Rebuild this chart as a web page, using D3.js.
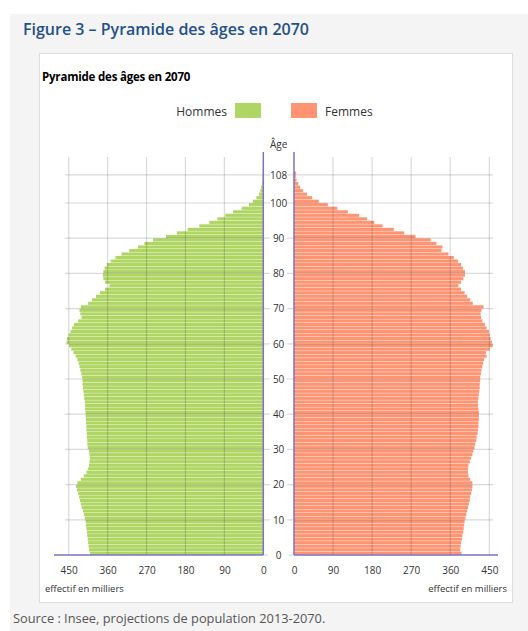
<!DOCTYPE html>
<html>
<head>
<meta charset="utf-8">
<script src="https://cdn.jsdelivr.net/npm/d3@7"></script>
<style>
  body { margin: 0; background: #fff; }
  svg { display: block; font-family: "Open Sans", sans-serif; }
</style>
</head>
<body>
<script>
'use strict';

// effectif en milliers, par âge (0 à 108)
const ages = d3.range(0, 109);
const hommes = [
  401, 403, 404, 405, 406, 407, 408, 409, 410, 411,
  413, 415, 417, 420, 422, 424, 426, 428, 431, 433,
  430, 422, 415, 409, 405, 403, 402, 401, 402, 403,
  406, 407, 407, 408, 408, 409, 409, 410, 410, 411,
  411, 412, 412, 413, 414, 415, 416, 417, 418, 418,
  419, 421, 423, 425, 427, 430, 434, 439, 444, 449,
  455, 454, 450, 446, 442, 438, 428, 420, 423, 425,
  422, 405, 396, 387, 378, 366, 356, 366, 370, 371,
  370, 367, 362, 353, 342, 328, 310, 290, 275, 255,
  225, 200, 175, 148, 125, 106, 88, 70, 50, 33,
  24, 16, 10, 7, 5, 3, 2, 1.5, 1
];
const femmes = [
  386, 383, 384, 385, 387, 388, 390, 391, 392, 393,
  395, 397, 399, 401, 403, 405, 406, 408, 410, 411,
  411, 406, 402, 401, 401, 402, 405, 408, 411, 413,
  416, 418, 420, 421, 423, 424, 425, 425, 426, 426,
  426, 425, 424, 424, 425, 426, 427, 428, 428, 429,
  429, 431, 432, 434, 436, 438, 444, 442, 451, 458,
  456, 453, 451, 449, 444, 440, 434, 431, 430, 432,
  437, 412, 406, 399, 393, 385, 379, 385, 390, 394,
  394, 389, 385, 378, 368, 356, 340, 342, 328, 315,
  280, 254, 230, 204, 185, 168, 150, 124, 100, 78,
  57, 42, 30, 21, 14, 10, 6, 4, 5
];
const xTicks = [0, 90, 180, 270, 360, 450];
const ageTicks = [0, 10, 20, 30, 40, 50, 60, 70, 80, 90, 100, 108];

const W = 528, H = 631;
const colH = '#afd563', colF = '#ff9473', colAxis = '#7b72c6';

const svg = d3.select('body').append('svg')
  .attr('width', W)
  .attr('height', H);

// fond gris + cadre blanc
svg.append('rect').attr('x', 10).attr('y', 14).attr('width', W - 10).attr('height', H - 14)
  .attr('fill', '#f4f4f4');
svg.append('rect').attr('x', 39.5).attr('y', 53.5).attr('width', 473).attr('height', 549)
  .attr('fill', '#fff').attr('stroke', '#dedede');

svg.append('text')
  .attr('x', 23).attr('y', 35)
  .attr('fill', '#24508a')
  .style('font-size', '16px').style('font-weight', 600)
  .text('Figure 3 – Pyramide des âges en 2070');

svg.append('text')
  .attr('x', 42).attr('y', 81)
  .attr('fill', '#000')
  .style('font-size', '11.5px').style('font-weight', 700)
  .style('letter-spacing', '-0.2px')
  .text('Pyramide des âges en 2070');

// légende
const legend = svg.append('g').style('font-size', '12px').attr('fill', '#333');
legend.append('text').attr('x', 227).attr('y', 116).attr('text-anchor', 'end').text('Hommes');
legend.append('rect').attr('x', 235).attr('y', 103).attr('width', 26).attr('height', 15).attr('fill', colH);
legend.append('rect').attr('x', 291).attr('y', 103).attr('width', 26).attr('height', 15).attr('fill', colF);
legend.append('text').attr('x', 325).attr('y', 116).text('Femmes');

// échelles
const y = d3.scaleLinear().domain([0, 109]).range([555, 555 - 109 * 3.52]);
const xL = d3.scaleLinear().domain([0, 450]).range([263.3, 68.7]);
const xR = d3.scaleLinear().domain([0, 450]).range([294, 489.3]);
const barH = y(0) - y(1);

// barres
svg.append('g').selectAll('rect')
  .data(ages)
  .join('rect')
  .attr('x', (d) => xL(hommes[d]))
  .attr('y', (d) => y(d + 1) + 0.2)
  .attr('width', (d) => xL(0) - xL(hommes[d]))
  .attr('height', barH - 0.4)
  .attr('fill', colH);

svg.append('g').selectAll('rect')
  .data(ages)
  .join('rect')
  .attr('x', xR(0))
  .attr('y', (d) => y(d + 1) + 0.2)
  .attr('width', (d) => xR(femmes[d]) - xR(0))
  .attr('height', barH - 0.4)
  .attr('fill', colF);

// grille
const grid = svg.append('g').attr('stroke', 'rgba(0,0,0,0.15)').attr('stroke-width', 1.2);
grid.selectAll('.vl').data(xTicks.slice(1)).join('line')
  .attr('x1', (d) => xL(d)).attr('x2', (d) => xL(d))
  .attr('y1', 157).attr('y2', y(0));
grid.selectAll('.vr').data(xTicks.slice(1)).join('line')
  .attr('x1', (d) => xR(d)).attr('x2', (d) => xR(d))
  .attr('y1', 157).attr('y2', y(0));
grid.selectAll('.hl').data(ageTicks.slice(1)).join('line')
  .attr('x1', 65).attr('x2', 270)
  .attr('y1', (d) => y(d)).attr('y2', (d) => y(d));
grid.selectAll('.hr').data(ageTicks.slice(1)).join('line')
  .attr('x1', 287).attr('x2', 493)
  .attr('y1', (d) => y(d)).attr('y2', (d) => y(d));
// petits traits à l'âge 0
grid.append('line').attr('x1', 263).attr('x2', 268).attr('y1', y(0)).attr('y2', y(0));
grid.append('line').attr('x1', 289).attr('x2', 294).attr('y1', y(0)).attr('y2', y(0));

// axes violets
const axes = svg.append('g').attr('stroke', colAxis).attr('stroke-width', 1.5);
axes.append('line').attr('x1', xL(0)).attr('x2', xL(0)).attr('y1', 152).attr('y2', y(0));
axes.append('line').attr('x1', xR(0)).attr('x2', xR(0)).attr('y1', 152).attr('y2', y(0));
axes.append('line').attr('x1', 54).attr('x2', xL(0)).attr('y1', y(0)).attr('y2', y(0));
axes.append('line').attr('x1', xR(0)).attr('x2', 498).attr('y1', y(0)).attr('y2', y(0));

// étiquettes des âges
const ageAxis = svg.append('g')
  .attr('transform', 'translate(278.6,0)')
  .call(d3.axisRight(y).tickValues(ageTicks).tickSize(0).tickPadding(0));
ageAxis.select('.domain').remove();
ageAxis.selectAll('text')
  .attr('text-anchor', 'middle')
  .attr('fill', '#333')
  .style('font-family', '"Open Sans", sans-serif')
  .style('font-size', '10px');
svg.append('text')
  .attr('x', 278.6).attr('y', 148)
  .attr('text-anchor', 'middle')
  .attr('fill', '#333')
  .style('font-size', '10px')
  .text('Âge');

// axes des effectifs
function styleX(g) {
  g.select('.domain').remove();
  g.selectAll('text')
    .attr('fill', '#333')
    .style('font-family', '"Open Sans", sans-serif')
    .style('font-size', '10px');
}
svg.append('g')
  .attr('transform', 'translate(0,' + (y(0) + 12) + ')')
  .call(d3.axisBottom(xL).tickValues(xTicks).tickSize(0).tickPadding(0))
  .call(styleX);
svg.append('g')
  .attr('transform', 'translate(0,' + (y(0) + 12) + ')')
  .call(d3.axisBottom(xR).tickValues(xTicks).tickSize(0).tickPadding(0))
  .call(styleX);

svg.append('text')
  .attr('x', 45).attr('y', 592)
  .attr('fill', '#333').style('font-size', '9.5px')
  .text('effectif en milliers');
svg.append('text')
  .attr('x', 507).attr('y', 592)
  .attr('text-anchor', 'end')
  .attr('fill', '#333').style('font-size', '9.5px')
  .text('effectif en milliers');

svg.append('text')
  .attr('x', 13).attr('y', 623)
  .attr('fill', '#555').style('font-size', '12.8px')
  .text('Source : Insee, projections de population 2013-2070.');
</script>
</body>
</html>
